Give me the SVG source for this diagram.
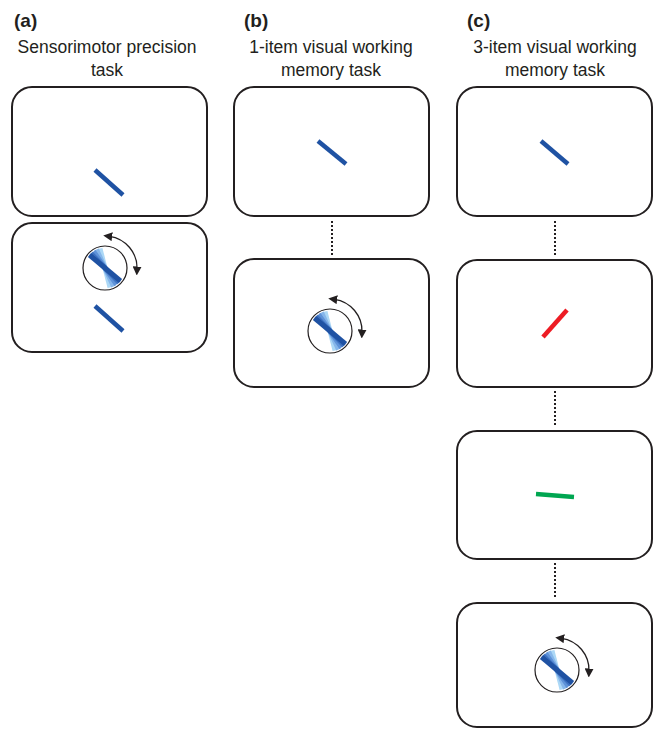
<svg xmlns="http://www.w3.org/2000/svg" width="655" height="729" viewBox="0 0 655 729">
<style>
.box{fill:#fff;stroke:#231f20;stroke-width:2}
.bar{stroke-width:4.5;stroke-linecap:butt;fill:none}
.dot{stroke:#231f20;stroke-width:2;stroke-dasharray:2 2;fill:none}
.lbl{font-family:"Liberation Sans",Arial,sans-serif;font-weight:bold;font-size:19px;fill:#231f20}
.ttl{font-family:"Liberation Sans",Arial,sans-serif;font-size:17.5px;fill:#231f20;text-anchor:middle}
</style>
<defs>
<marker id="ah" viewBox="0 0 10 10" refX="3" refY="5" markerWidth="9" markerHeight="9" markerUnits="userSpaceOnUse" orient="auto-start-reverse">
<path d="M0,0 L10,5 L0,10 Z" fill="#231f20"/>
</marker>
<g id="dial">
<circle r="22" fill="#fff" stroke="#231f20" stroke-width="1.2"/>
<g stroke-width="5" fill="none">
<line x1="-5" y1="-19.5" x2="5" y2="19.5" stroke="#acd8f6"/>
<line x1="-8.5" y1="-18.5" x2="8.5" y2="18.5" stroke="#86b6ea"/>
<line x1="-11.5" y1="-16.5" x2="11.5" y2="16.5" stroke="#5e92d8"/>
<line x1="-14" y1="-14.5" x2="14" y2="14.5" stroke="#3d71c0"/>
<line x1="-15.5" y1="-13" x2="15.5" y2="13" stroke="#1f52a3"/>
</g>
<path d="M4.5,-31.7 A32,32 0 0 1 32,1.2" fill="none" stroke="#231f20" stroke-width="1.3" marker-start="url(#ah)" marker-end="url(#ah)"/>
</g>
</defs>

<g id="headers">
<text class="lbl" x="14" y="27">(a)</text>
<text class="ttl" x="107" y="53">Sensorimotor precision</text>
<text class="ttl" x="107" y="76">task</text>
<text class="lbl" x="244" y="27">(b)</text>
<text class="ttl" x="331" y="53">1-item visual working</text>
<text class="ttl" x="331" y="76">memory task</text>
<text class="lbl" x="467" y="27">(c)</text>
<text class="ttl" x="555" y="53">3-item visual working</text>
<text class="ttl" x="555" y="76">memory task</text>
</g>

<g id="connectors">
<line class="dot" x1="332" y1="221" x2="332" y2="256"/>
<line class="dot" x1="555" y1="221" x2="555" y2="256"/>
<line class="dot" x1="555" y1="391" x2="555" y2="426"/>
<line class="dot" x1="555" y1="563" x2="555" y2="598"/>
</g>

<g id="a1">
<rect class="box" x="12" y="87" width="195" height="129" rx="20"/>
<line class="bar" stroke="#1f52a3" x1="95" y1="170" x2="123" y2="195"/>
</g>
<g id="a2">
<rect class="box" x="12" y="223" width="195" height="129" rx="20"/>
<use href="#dial" x="105" y="268"/>
<line class="bar" stroke="#1f52a3" x1="95" y1="306" x2="123" y2="331"/>
</g>

<g id="b1">
<rect class="box" x="234" y="87" width="195" height="129" rx="20"/>
<line class="bar" stroke="#1f52a3" x1="318" y1="141" x2="346" y2="164"/>
</g>
<g id="b2">
<rect class="box" x="234" y="259" width="195" height="128" rx="20"/>
<use href="#dial" x="330" y="331"/>
</g>

<g id="c1">
<rect class="box" x="457" y="87" width="195" height="129" rx="20"/>
<line class="bar" stroke="#1f52a3" x1="541" y1="141" x2="568" y2="164"/>
</g>
<g id="c2">
<rect class="box" x="457" y="260" width="195" height="127" rx="20"/>
<line class="bar" stroke="#ed1c24" x1="567" y1="310" x2="543" y2="337"/>
</g>
<g id="c3">
<rect class="box" x="457" y="431" width="195" height="128" rx="20"/>
<line class="bar" stroke="#00a651" x1="536" y1="494" x2="574" y2="497"/>
</g>
<g id="c4">
<rect class="box" x="457" y="603" width="195" height="124" rx="20"/>
<use href="#dial" x="557" y="670"/>
</g>
</svg>
